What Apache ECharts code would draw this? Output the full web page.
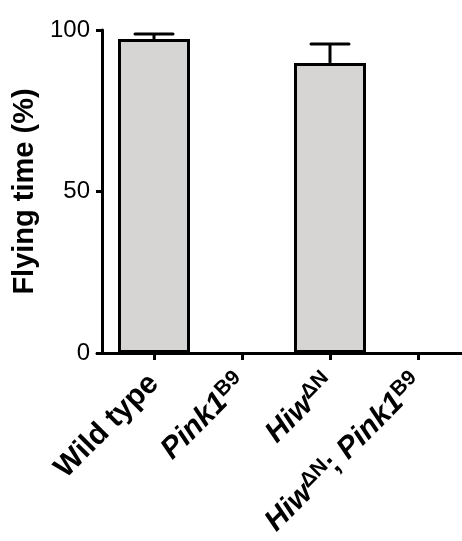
<!DOCTYPE html>
<html>
<head>
<meta charset="utf-8">
<script src="https://cdn.jsdelivr.net/npm/echarts@6/dist/echarts.min.js"></script>
<style>html,body{margin:0;padding:0;background:#fff}#c{width:462px;height:541px}</style>
</head>
<body>
<div id="c"></div>
<script>
var categories = ['Wild type', 'Pink1B9', 'HiwΔN', 'HiwΔN; Pink1B9'];
var categoryLabels = [
  '{b|Wild type}',
  '{bi|Pink1}{sup|B9}',
  '{bi|Hiw}{sup|ΔN}',
  '{bi|Hiw}{sup|ΔN}{b|; }{bi|Pink1}{sup|B9}'
];
var flyingTime = [97.2, 0, 89.8, 0];
var errorUpper = [98.8, 0, 95.7, 0];
var yTicks = [0, 50, 100];

var FONT = 'Liberation Sans, Arial, sans-serif';
var chart = echarts.init(document.getElementById('c'), null, {renderer: 'canvas'});
chart.setOption({
  animation: false,
  backgroundColor: '#fff',
  grid: [
    {left: 110, width: 353, top: 30, height: 323, containLabel: false},
    {left: 97, width: 366, top: 30, height: 323, containLabel: false}
  ],
  xAxis: [
    {
      type: 'category', gridIndex: 0, data: categories,
      axisLine: {show: true, lineStyle: {color: '#000', width: 3}},
      axisTick: {show: true, alignWithLabel: true, length: 7, lineStyle: {color: '#000', width: 3}},
      axisLabel: {
        interval: 0, rotate: 45, margin: 26, color: '#000',
        fontFamily: FONT,
        formatter: function (v, i) { return categoryLabels[i]; },
        rich: {
          b: {fontFamily: FONT, fontSize: 30, fontWeight: 'bold', color: '#000'},
          bi: {fontFamily: FONT, fontSize: 30, fontWeight: 'bold', fontStyle: 'italic', color: '#000'},
          sup: {fontFamily: FONT, fontSize: 21, fontWeight: 'bold', color: '#000', padding: [0, 0, 13, 0]}
        }
      }
    },
    {
      type: 'value', gridIndex: 1, min: 0, max: 1,
      axisLine: {show: true, onZero: false, lineStyle: {color: '#000', width: 3}},
      axisTick: {show: false}, axisLabel: {show: false}, splitLine: {show: false}
    }
  ],
  yAxis: [
    {
      type: 'value', gridIndex: 0, min: 0, max: 100, interval: 50, offset: 8,
      name: 'Flying time (%)', nameLocation: 'middle', nameGap: 60,
      nameTextStyle: {fontFamily: FONT, fontSize: 29, fontWeight: 'bold', color: '#000'},
      axisLine: {show: true, lineStyle: {color: '#000', width: 3}},
      axisTick: {show: true, length: 6, lineStyle: {color: '#000', width: 3}},
      axisLabel: {
        margin: 12, color: '#000', fontFamily: FONT, fontSize: 24,
        formatter: function (v) { return yTicks.indexOf(v) >= 0 ? String(v) : ''; }
      },
      splitLine: {show: false}
    },
    {
      type: 'value', gridIndex: 1, min: 0, max: 100, show: false
    }
  ],
  series: [
    {
      type: 'bar', xAxisIndex: 0, yAxisIndex: 0,
      data: flyingTime.map(function (v) {
        return v === 0 ? {value: v, itemStyle: {borderWidth: 0, opacity: 0}} : v;
      }),
      barWidth: 72,
      itemStyle: {color: '#d6d5d3', borderColor: '#000', borderWidth: 3},
      z: 2
    },
    {
      type: 'custom', xAxisIndex: 0, yAxisIndex: 0, z: 1,
      data: categories.map(function (c, i) { return [i, flyingTime[i], errorUpper[i]]; }),
      renderItem: function (params, api) {
        var i = api.value(0);
        var v = api.value(1), u = api.value(2);
        if (u <= v) return null;
        var base = api.coord([i, v]);
        var top = api.coord([i, u]);
        var half = 19;
        return {
          type: 'group',
          children: [
            {type: 'line', shape: {x1: base[0], y1: base[1], x2: top[0], y2: top[1]}, style: {stroke: '#000', lineWidth: 3}},
            {type: 'line', shape: {x1: top[0] - half, y1: top[1], x2: top[0] + half, y2: top[1]}, style: {stroke: '#000', lineWidth: 3, lineCap: 'round'}}
          ]
        };
      }
    }
  ]
});
</script>
</body>
</html>
